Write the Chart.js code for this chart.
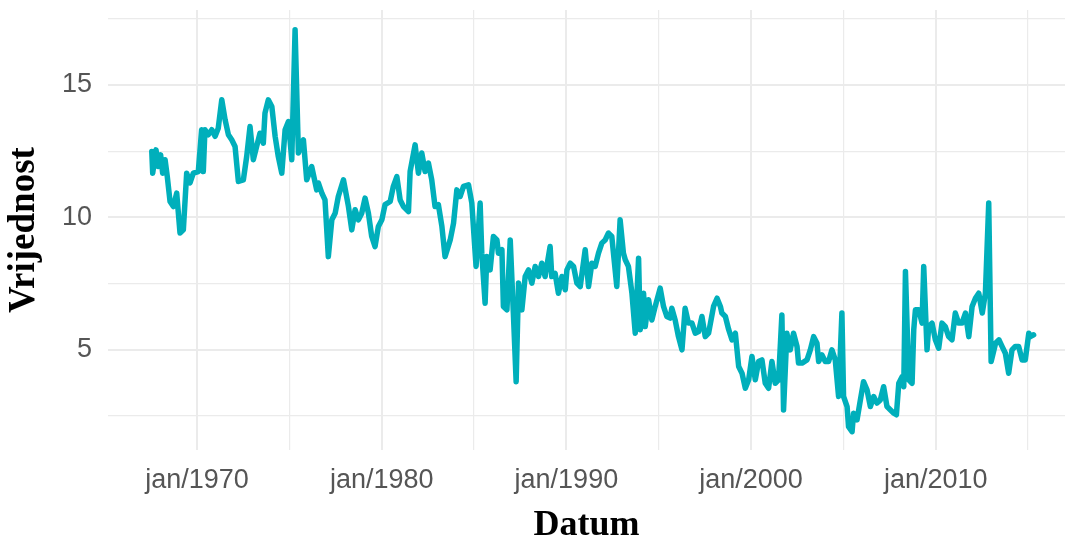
<!DOCTYPE html>
<html>
<head>
<meta charset="utf-8">
<script src="https://cdn.jsdelivr.net/npm/chart.js@4/dist/chart.umd.min.js"></script>
<style>
    html, body { margin: 0; padding: 0; background: #ffffff; }
    #wrap { width: 1065px; height: 539px; position: relative; }
</style>
</head>
<body>
<div id="wrap"><canvas id="myChart"></canvas></div>
<script>
// decimal years
var years = [
    1967.55, 1967.60, 1967.78, 1967.90, 1968.03, 1968.14, 1968.27, 1968.39, 1968.54, 1968.72,
    1968.90, 1969.08, 1969.26, 1969.44, 1969.62, 1969.80, 1970.07, 1970.25, 1970.34, 1970.43,
    1970.61, 1970.80, 1970.98, 1971.15, 1971.34, 1971.52, 1971.70, 1971.88, 1972.06, 1972.24,
    1972.51, 1972.69, 1972.87, 1973.05, 1973.23, 1973.41, 1973.59, 1973.68, 1973.86, 1974.05,
    1974.23, 1974.40, 1974.59, 1974.77, 1974.95, 1975.13, 1975.31, 1975.49, 1975.76, 1975.94,
    1976.21, 1976.48, 1976.57, 1976.76, 1976.93, 1977.11, 1977.30, 1977.48, 1977.65, 1977.93,
    1978.20, 1978.38, 1978.56, 1978.74, 1978.92, 1979.10, 1979.28, 1979.46, 1979.64, 1979.82,
    1980.01, 1980.18, 1980.46, 1980.63, 1980.82, 1981.00, 1981.18, 1981.45, 1981.54, 1981.81,
    1981.99, 1982.17, 1982.35, 1982.53, 1982.71, 1982.89, 1983.07, 1983.26, 1983.43, 1983.71,
    1983.89, 1984.07, 1984.25, 1984.43, 1984.70, 1984.88, 1985.11, 1985.33, 1985.42, 1985.60,
    1985.69, 1985.87, 1986.05, 1986.24, 1986.32, 1986.51, 1986.59, 1986.78, 1986.96, 1987.13,
    1987.28, 1987.41, 1987.59, 1987.77, 1987.95, 1988.13, 1988.31, 1988.49, 1988.67, 1988.85,
    1989.12, 1989.21, 1989.39, 1989.57, 1989.76, 1989.94, 1990.03, 1990.21, 1990.39, 1990.57,
    1990.75, 1991.02, 1991.20, 1991.38, 1991.56, 1991.74, 1991.92, 1992.10, 1992.28, 1992.46,
    1992.73, 1992.91, 1993.09, 1993.19, 1993.36, 1993.55, 1993.73, 1993.91, 1994.00, 1994.18,
    1994.27, 1994.45, 1994.63, 1994.81, 1995.08, 1995.26, 1995.44, 1995.62, 1995.71, 1995.89,
    1996.07, 1996.26, 1996.43, 1996.61, 1996.80, 1996.98, 1997.16, 1997.34, 1997.52, 1997.70,
    1997.97, 1998.16, 1998.34, 1998.42, 1998.61, 1998.79, 1998.97, 1999.15, 1999.33, 1999.51,
    1999.69, 1999.87, 2000.05, 2000.23, 2000.41, 2000.59, 2000.77, 2000.95, 2001.13, 2001.31,
    2001.49, 2001.67, 2001.76, 2001.94, 2002.12, 2002.30, 2002.49, 2002.57, 2002.76, 2003.03,
    2003.21, 2003.39, 2003.57, 2003.66, 2003.84, 2004.02, 2004.20, 2004.38, 2004.56, 2004.74,
    2004.92, 2005.01, 2005.20, 2005.28, 2005.47, 2005.55, 2005.74, 2005.92, 2006.09, 2006.28,
    2006.46, 2006.64, 2006.82, 2007.00, 2007.18, 2007.36, 2007.55, 2007.73, 2007.87, 2008.00,
    2008.18, 2008.27, 2008.36, 2008.54, 2008.72, 2008.81, 2008.90, 2009.08, 2009.26, 2009.35,
    2009.53, 2009.62, 2009.80, 2009.98, 2010.16, 2010.34, 2010.52, 2010.70, 2010.88, 2011.06,
    2011.24, 2011.42, 2011.61, 2011.79, 2011.97, 2012.15, 2012.33, 2012.52, 2012.69, 2012.87,
    2013.00, 2013.24, 2013.42, 2013.59, 2013.77, 2013.95, 2014.13, 2014.31, 2014.49, 2014.68,
    2014.85, 2015.04, 2015.12, 2015.30
];

var values = [
    12.49, 11.67, 12.55, 11.92, 12.36, 11.67, 12.18, 11.54, 10.60, 10.41,
    10.92, 9.41, 9.53, 11.67, 11.30, 11.67, 11.73, 13.31, 11.73, 13.31,
    13.12, 13.31, 13.06, 13.37, 14.44, 13.69, 13.12, 12.93, 12.68, 11.36,
    11.42, 12.30, 13.43, 12.18, 12.68, 13.18, 12.80, 13.94, 14.44, 14.19,
    13.06, 12.30, 11.67, 13.31, 13.62, 12.18, 17.08, 12.43, 12.93, 11.42,
    11.92, 11.04, 11.30, 10.92, 10.66, 8.52, 9.91, 10.16, 10.79, 11.42,
    10.41, 9.53, 10.29, 9.91, 10.16, 10.73, 10.16, 9.28, 8.90, 9.66,
    9.91, 10.48, 10.60, 11.17, 11.54, 10.66, 10.41, 10.22, 11.73, 12.74,
    11.67, 12.43, 11.73, 12.05, 11.42, 10.41, 10.48, 9.66, 8.52, 9.15,
    9.78, 11.04, 10.79, 11.17, 11.23, 10.54, 8.15, 10.54, 8.65, 6.76,
    8.52, 8.02, 9.28, 9.15, 8.65, 8.78, 6.64, 6.51, 9.15, 6.39,
    3.80, 7.52, 6.51, 7.77, 8.02, 7.52, 8.15, 7.77, 8.27, 7.77,
    8.90, 7.77, 7.89, 7.14, 7.77, 7.27, 8.02, 8.27, 8.15, 7.52,
    7.39, 8.78, 7.39, 8.27, 8.15, 8.65, 9.03, 9.15, 9.41, 9.28,
    7.39, 9.91, 8.65, 8.40, 8.15, 7.14, 5.63, 8.46, 5.76, 7.14,
    5.88, 6.89, 6.13, 6.64, 7.33, 6.64, 6.26, 6.20, 6.57, 6.13,
    5.50, 5.00, 6.57, 6.01, 6.01, 5.63, 5.69, 6.26, 5.50, 5.63,
    6.64, 6.95, 6.64, 6.39, 6.26, 5.76, 5.38, 5.63, 4.37, 4.12,
    3.55, 3.87, 4.75, 3.87, 4.56, 4.62, 3.74, 3.55, 4.56, 3.74,
    3.87, 6.32, 2.73, 5.63, 5.00, 5.63, 5.13, 4.50, 4.50, 4.62,
    5.00, 5.50, 5.25, 4.56, 4.81, 4.56, 4.56, 5.00, 4.62, 3.24,
    6.39, 3.24, 2.86, 2.10, 1.91, 2.61, 2.36, 3.11, 3.80, 3.49,
    2.86, 3.24, 2.99, 3.11, 3.61, 2.86, 2.73, 2.61, 2.55, 3.74,
    3.99, 3.61, 7.96, 3.87, 3.74, 5.76, 6.51, 6.51, 6.01, 8.15,
    5.00, 5.88, 6.01, 5.38, 5.06, 6.01, 5.88, 5.50, 5.38, 6.39,
    6.01, 6.01, 6.39, 5.50, 6.64, 6.95, 7.14, 6.39, 7.14, 10.54,
    4.56, 5.25, 5.38, 5.13, 4.87, 4.12, 5.00, 5.13, 5.13, 4.62,
    4.62, 5.63, 5.50, 5.57
];

var xTicks = [1970, 1975, 1980, 1985, 1990, 1995, 2000, 2005, 2010, 2015];
var xLabelYears = [1970, 1980, 1990, 2000, 2010];
var yTicks = [2.5, 5, 7.5, 10, 12.5, 15, 17.5];
var yLabels = [5, 10, 15];

var points = [];
for (var i = 0; i < years.length; i++) {
    points.push({ x: years[i], y: values[i] });
}

var gridColor = '#ebebeb';
var tickFont = { family: 'Liberation Sans, Arial, sans-serif', size: 27 };
var titleFont = { family: 'Liberation Serif, Times New Roman, serif', size: 36, weight: 'bold', lineHeight: 0.75 };

var config = {
    type: 'line',
    data: {
        datasets: [{
            label: 'Vrijednost',
            data: points,
            borderColor: '#00AFBB',
            borderWidth: 5.5,
            pointRadius: 0,
            tension: 0,
            borderJoinStyle: 'round',
            borderCapStyle: 'round'
        }]
    },
    options: {
        responsive: false,
        animation: false,
        layout: { padding: { top: 10, left: 0, right: 0, bottom: 0 } },
        plugins: {
            legend: { display: false },
            tooltip: { enabled: false }
        },
        scales: {
            x: {
                type: 'linear',
                min: 1965.18,
                max: 2017.0,
                afterBuildTicks: function(scale) {
                    scale.ticks = xTicks.map(function(v) { return { value: v }; });
                },
                afterFit: function(scale) {
                    scale.height = 89;
                    scale.paddingLeft = 0;
                    scale.paddingRight = 0;
                },
                border: { display: false },
                grid: {
                    color: gridColor,
                    drawTicks: false,
                    lineWidth: function(ctx) {
                        return xLabelYears.indexOf(ctx.tick.value) >= 0 ? 2 : 1.2;
                    }
                },
                ticks: {
                    color: '#555555',
                    font: tickFont,
                    padding: 14,
                    maxRotation: 0,
                    autoSkip: false,
                    callback: function(v) {
                        return xLabelYears.indexOf(v) >= 0 ? 'jan/' + v : '';
                    }
                },
                title: {
                    display: true,
                    text: 'Datum',
                    color: '#000000',
                    font: titleFont,
                    padding: { top: 0, bottom: 0 }
                }
            },
            y: {
                min: 1.22,
                max: 17.83,
                afterBuildTicks: function(scale) {
                    scale.ticks = yTicks.map(function(v) { return { value: v }; });
                },
                afterFit: function(scale) {
                    scale.width = 108;
                    scale.paddingTop = 0;
                    scale.paddingBottom = 0;
                },
                border: { display: false },
                grid: {
                    color: gridColor,
                    drawTicks: false,
                    lineWidth: function(ctx) {
                        return yLabels.indexOf(ctx.tick.value) >= 0 ? 2 : 1.2;
                    }
                },
                ticks: {
                    color: '#555555',
                    font: tickFont,
                    padding: 16,
                    callback: function(v) {
                        return yLabels.indexOf(v) >= 0 ? String(v) : '';
                    }
                },
                title: {
                    display: true,
                    text: 'Vrijednost',
                    color: '#000000',
                    font: { family: titleFont.family, size: 37, weight: 'bold', lineHeight: 1 },
                    padding: { top: 6, bottom: 0 }
                }
            }
        }
    }
};

var canvas = document.getElementById('myChart');
canvas.width = 1065;
canvas.height = 539;
var myChart = new Chart(canvas, config);
</script>
</body>
</html>
